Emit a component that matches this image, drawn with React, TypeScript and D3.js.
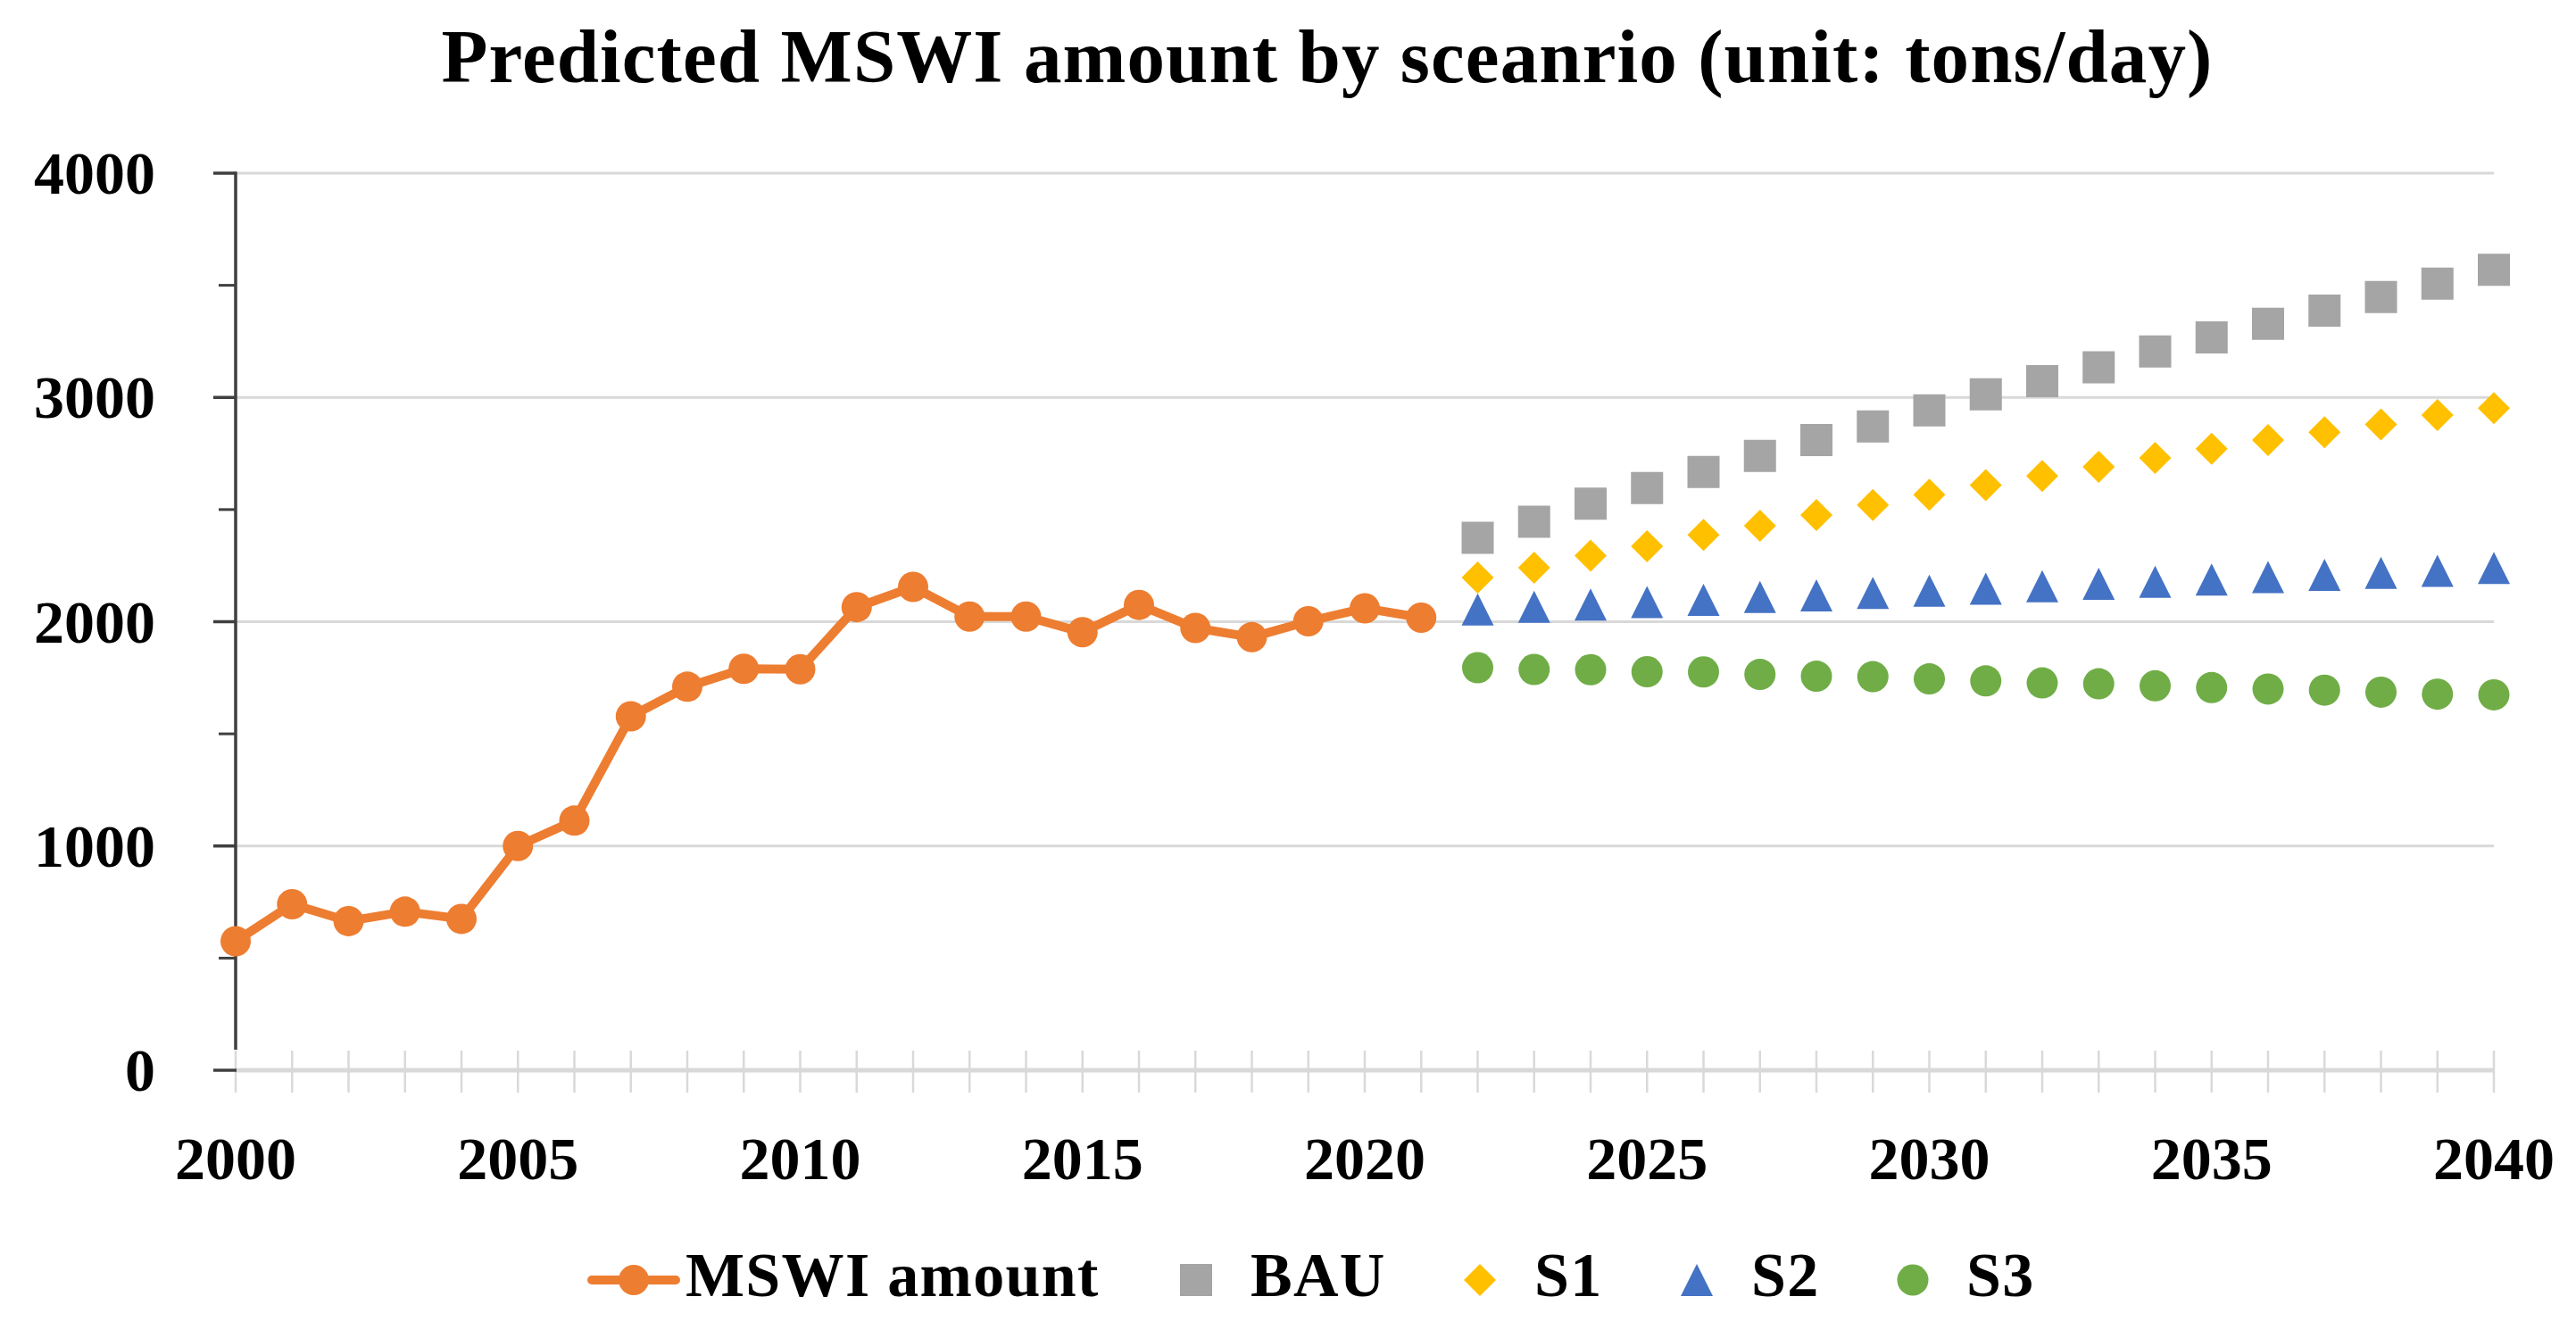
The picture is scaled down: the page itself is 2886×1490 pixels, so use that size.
import React from "react";
import * as d3 from "d3";

const histYears = [2000, 2001, 2002, 2003, 2004, 2005, 2006, 2007, 2008, 2009, 2010, 2011, 2012, 2013, 2014, 2015, 2016, 2017, 2018, 2019, 2020, 2021];
const mswi = [575, 740, 665, 707, 675, 1000, 1113, 1578, 1710, 1790, 1788, 2065, 2155, 2023, 2023, 1953, 2075, 1972, 1931, 2002, 2060, 2018];

const projYears = [2022, 2023, 2024, 2025, 2026, 2027, 2028, 2029, 2030, 2031, 2032, 2033, 2034, 2035, 2036, 2037, 2038, 2039, 2040];
const bau = [2374, 2446, 2526, 2596, 2668, 2739, 2810, 2871, 2942, 3014, 3073, 3134, 3205, 3268, 3328, 3387, 3448, 3507, 3569];
const s1 = [2197, 2241, 2295, 2336, 2387, 2428, 2476, 2520, 2566, 2609, 2650, 2691, 2730, 2771, 2810, 2845, 2880, 2921, 2952];
const s2 = [2055, 2067, 2077, 2088, 2098, 2110, 2117, 2128, 2138, 2147, 2158, 2169, 2178, 2188, 2199, 2209, 2218, 2227, 2240];
const s3 = [1795, 1787, 1786, 1777, 1776, 1765, 1757, 1755, 1745, 1736, 1727, 1723, 1714, 1706, 1700, 1695, 1686, 1677, 1674];

const allYears = [...histYears, ...projYears];
const xTickLabels = [2000, 2005, 2010, 2015, 2020, 2025, 2030, 2035, 2040];
const yMajor = [0, 1000, 2000, 3000, 4000];
const yMinor = [500, 1500, 2500, 3500];

const title = "Predicted MSWI amount by sceanrio (unit: tons/day)";
const legendLabels = ["MSWI amount", "BAU", "S1", "S2", "S3"];

const W = 2886;
const H = 1490;
const FONT = "'Palatino Linotype', 'Book Antiqua', Palatino, 'Liberation Serif', serif";

const x = d3.scalePoint<number>().domain(allYears).range([264, 2794]);
const y = d3.scaleLinear().domain([0, 4000]).range([1199, 194]);

const diamondType = {
  draw(ctx: any, size: number) {
    const r = Math.sqrt(size) / 2;
    ctx.moveTo(0, -r);
    ctx.lineTo(r, 0);
    ctx.lineTo(0, r);
    ctx.lineTo(-r, 0);
    ctx.closePath();
  },
};
const triangleType = {
  draw(ctx: any, size: number) {
    const r = Math.sqrt(size) / 2;
    ctx.moveTo(0, -r);
    ctx.lineTo(r, r);
    ctx.lineTo(-r, r);
    ctx.closePath();
  },
};

const MS = 36 * 36;
const squarePath = d3.symbol().type(d3.symbolSquare).size(MS)() as string;
const diamondPath = d3.symbol().type(diamondType as any).size(MS)() as string;
const trianglePath = d3.symbol().type(triangleType as any).size(MS)() as string;
const circlePath = d3.symbol().type(d3.symbolCircle).size(Math.PI * 17.5 * 17.5)() as string;
const orangeCircle = d3.symbol().type(d3.symbolCircle).size(Math.PI * 17 * 17)() as string;

const C_ORANGE = "#ED7D31";
const C_BAU = "#A5A5A5";
const C_S1 = "#FFC000";
const C_S2 = "#4472C4";
const C_S3 = "#70AD47";

const scatterSeries = [
  { values: bau, path: squarePath, color: C_BAU },
  { values: s1, path: diamondPath, color: C_S1 },
  { values: s2, path: trianglePath, color: C_S2 },
  { values: s3, path: circlePath, color: C_S3 },
];

export default function App() {
  const line = d3
    .line<number>()
    .x((_, i) => x(histYears[i]) as number)
    .y((d) => y(d));

  const legendY = 1434;
  const legendBase = 1452;
  const legendFont = 70;
  const legendSpacing = 1.3;

  return (
    <svg
      width={W}
      height={H}
      viewBox={`0 0 ${W} ${H}`}
      style={{ position: "absolute", left: 0, top: 0, background: "#fff" }}
      fontFamily={FONT}
    >
      <rect x={0} y={0} width={W} height={H} fill="#fff" />
      <text x={1487} y={92} textAnchor="middle" fontSize={85} fontWeight="bold" letterSpacing={1.1} fill="#000">
        {title}
      </text>

      {/* gridlines */}
      {yMajor
        .filter((v) => v > 0)
        .map((v) => (
          <line key={"g" + v} x1={264} x2={2794} y1={y(v)} y2={y(v)} stroke="#D9D9D9" strokeWidth={3} />
        ))}

      {/* x axis line */}
      <line x1={264} x2={2794} y1={y(0)} y2={y(0)} stroke="#D9D9D9" strokeWidth={5} />
      {allYears.map((yr) => (
        <line key={"xt" + yr} x1={x(yr)} x2={x(yr)} y1={1177} y2={1224} stroke="#D9D9D9" strokeWidth={2.5} />
      ))}

      {/* y axis */}
      <line x1={264} x2={264} y1={y(4000) - 1.5} y2={1176} stroke="#3F3F3F" strokeWidth={3.5} />
      {yMajor.map((v) => (
        <line key={"ym" + v} x1={239} x2={265} y1={y(v)} y2={y(v)} stroke="#3F3F3F" strokeWidth={3.5} />
      ))}
      {yMinor.map((v) => (
        <line key={"yn" + v} x1={245} x2={265} y1={y(v)} y2={y(v)} stroke="#3F3F3F" strokeWidth={3} />
      ))}
      {yMajor.map((v) => (
        <text key={"yl" + v} x={174} y={y(v) + 23} textAnchor="end" fontSize={68} fontWeight="bold" fill="#000">
          {v}
        </text>
      ))}
      {xTickLabels.map((yr) => (
        <text key={"xl" + yr} x={x(yr)} y={1321} textAnchor="middle" fontSize={68} fontWeight="bold" fill="#000">
          {yr}
        </text>
      ))}

      {/* historical line */}
      <path d={line(mswi) as string} fill="none" stroke={C_ORANGE} strokeWidth={10} strokeLinejoin="round" />
      {mswi.map((v, i) => (
        <path key={"o" + i} d={orangeCircle} transform={`translate(${x(histYears[i])},${y(v)})`} fill={C_ORANGE} />
      ))}

      {/* scenarios */}
      {scatterSeries.map((s, si) =>
        s.values.map((v, i) => (
          <path key={`s${si}-${i}`} d={s.path} transform={`translate(${x(projYears[i])},${y(v)})`} fill={s.color} />
        ))
      )}

      {/* legend */}
      <g fontSize={legendFont} fontWeight="bold" fill="#000" letterSpacing={legendSpacing}>
        <line x1={663} x2={757} y1={legendY} y2={legendY} stroke={C_ORANGE} strokeWidth={10} strokeLinecap="round" />
        <path d={orangeCircle} transform={`translate(710,${legendY})`} fill={C_ORANGE} />
        <text x={768} y={legendBase}>{legendLabels[0]}</text>
        <path d={squarePath} transform={`translate(1340,${legendY})`} fill={C_BAU} />
        <text x={1401} y={legendBase}>{legendLabels[1]}</text>
        <path d={diamondPath} transform={`translate(1658,${legendY})`} fill={C_S1} />
        <text x={1719} y={legendBase}>{legendLabels[2]}</text>
        <path d={trianglePath} transform={`translate(1901,${legendY})`} fill={C_S2} />
        <text x={1962} y={legendBase}>{legendLabels[3]}</text>
        <path d={circlePath} transform={`translate(2143,${legendY})`} fill={C_S3} />
        <text x={2203} y={legendBase}>{legendLabels[4]}</text>
      </g>
    </svg>
  );
}
